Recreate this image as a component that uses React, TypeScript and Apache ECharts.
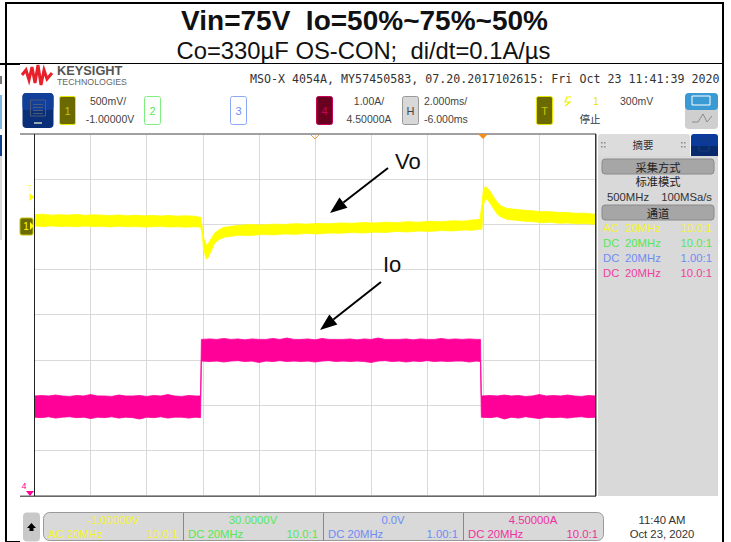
import React, { useEffect, useRef } from "react";
import * as echarts from "echarts";

const titleMain = "Vin=75V  Io=50%~75%~50%";
const titleSub = "Co=330µF OS-CON;  di/dt=0.1A/µs";
const scopeId = "MSO-X 4054A, MY57450583, 07.20.2017102615: Fri Oct 23 11:41:39 2020";

// Vo envelope (volts, AC) against time (ms across 10 divisions)
const voTime = [
  0, 0.3, 0.6, 0.9, 1.2, 1.5, 1.8, 2.1, 2.4, 2.7,
  3.0, 3.3, 3.6, 3.9, 4.2, 4.5, 4.8, 5.1, 5.4, 5.7,
  5.92, 5.97, 6.03, 6.13, 6.2, 6.31, 6.42, 6.6, 6.77, 7.02,
  7.3, 7.7, 8.1, 8.5, 8.9, 9.3, 9.7, 10.1, 10.5, 10.9,
  11.3, 11.7, 12.1, 12.5, 12.9, 13.3, 13.7, 14.1, 14.5, 14.9,
  15.3, 15.6, 15.88, 15.95, 16.0, 16.08, 16.19, 16.29, 16.4, 16.5,
  16.65, 16.83, 17.11, 17.47, 17.8, 18.1, 18.4, 18.7, 19.0, 19.3,
  19.6, 20,
];
const voUpper = [
  0.104, 0.108, 0.098, 0.103, 0.099, 0.106, 0.096, 0.102, 0.098, 0.094,
  0.1, 0.092, 0.097, 0.09, 0.095, 0.089, 0.094, 0.087, 0.091, 0.086,
  0.075, -0.014, -0.157, -0.234, -0.212, -0.157, -0.102, -0.058, -0.036, -0.025,
  -0.014, -0.006, -0.01, -0.002, -0.005, 0.004, -0.001, 0.006, 0.003, 0.012,
  0.007, 0.016, 0.011, 0.02, 0.015, 0.026, 0.02, 0.03, 0.025, 0.036,
  0.031, 0.044, 0.05, 0.218, 0.373, 0.417, 0.384, 0.34, 0.284, 0.24,
  0.196, 0.174, 0.163, 0.152, 0.144, 0.136, 0.137, 0.126, 0.128, 0.118,
  0.12, 0.108,
];
const voLower = [
  -0.022, -0.028, -0.021, -0.027, -0.024, -0.03, -0.023, -0.028, -0.026, -0.032,
  -0.025, -0.031, -0.028, -0.034, -0.03, -0.027, -0.033, -0.031, -0.035, -0.03,
  -0.035, -0.091, -0.29, -0.389, -0.367, -0.29, -0.212, -0.168, -0.146, -0.135,
  -0.124, -0.128, -0.116, -0.12, -0.11, -0.114, -0.104, -0.11, -0.1, -0.103,
  -0.094, -0.1, -0.09, -0.093, -0.082, -0.088, -0.078, -0.083, -0.072, -0.077,
  -0.066, -0.07, -0.058, -0.058, 0.207, 0.284, 0.251, 0.207, 0.152, 0.108,
  0.075, 0.053, 0.042, 0.031, 0.024, 0.014, 0.018, 0.008, 0.011, 0.002,
  0.005, -0.003,
];

// Io envelope (amps) against time (ms)
const ioTime = [
  0, 0.25, 0.5, 0.75, 1, 1.25, 1.5, 1.75, 2, 2.25,
  2.5, 2.75, 3, 3.25, 3.5, 3.75, 4, 4.25, 4.5, 4.75,
  5, 5.25, 5.5, 5.75, 5.92,
  5.95, 6.25, 6.5, 6.75, 7, 7.25, 7.5, 7.75, 8, 8.25,
  8.5, 8.75, 9, 9.25, 9.5, 9.75, 10, 10.25, 10.5, 10.75,
  11, 11.25, 11.5, 11.75, 12, 12.25, 12.5, 12.75, 13, 13.25,
  13.5, 13.75, 14, 14.25, 14.5, 14.75, 15, 15.25, 15.5, 15.75,
  15.9,
  15.93, 16.25, 16.5, 16.75, 17, 17.25, 17.5, 17.75, 18, 18.25,
  18.5, 18.75, 19, 19.25, 19.5, 19.75, 20,
];
const ioUpper = [
  2.7, 2.71, 2.7, 2.72, 2.7, 2.69, 2.71, 2.7, 2.73, 2.7,
  2.7, 2.69, 2.72, 2.7, 2.7, 2.71, 2.69, 2.71, 2.7, 2.73,
  2.7, 2.69, 2.71, 2.7, 2.7,
  3.95, 3.96, 3.95, 3.97, 3.95, 3.96, 3.94, 3.96, 3.95, 3.95,
  3.97, 3.95, 3.98, 3.95, 3.95, 3.96, 3.94, 3.97, 3.95, 3.95,
  3.95, 3.96, 3.94, 3.96, 3.95, 3.98, 3.95, 3.95, 3.95, 3.96,
  3.94, 3.96, 3.95, 3.95, 3.97, 3.95, 3.96, 3.95, 3.96, 3.95,
  3.95,
  2.7, 2.71, 2.7, 2.72, 2.7, 2.71, 2.69, 2.7, 2.73, 2.7,
  2.71, 2.7, 2.72, 2.7, 2.69, 2.71, 2.7,
];
const ioLower = [
  2.23, 2.22, 2.24, 2.21, 2.23, 2.24, 2.22, 2.23, 2.2, 2.23,
  2.22, 2.24, 2.21, 2.23, 2.22, 2.19, 2.23, 2.22, 2.24, 2.21,
  2.23, 2.23, 2.21, 2.23, 2.22,
  3.47, 3.46, 3.47, 3.45, 3.47, 3.48, 3.46, 3.47, 3.44, 3.47,
  3.46, 3.48, 3.46, 3.47, 3.46, 3.47, 3.45, 3.47, 3.48, 3.46,
  3.47, 3.46, 3.47, 3.46, 3.44, 3.47, 3.48, 3.46, 3.47, 3.45,
  3.47, 3.46, 3.48, 3.46, 3.47, 3.46, 3.47, 3.47, 3.45, 3.47,
  3.46,
  2.23, 2.22, 2.24, 2.19, 2.23, 2.21, 2.24, 2.22, 2.2, 2.23,
  2.22, 2.23, 2.21, 2.23, 2.24, 2.22, 2.23,
];

const panelRows = [
  { coupling: "AC", probe: "10.0:1", color: "#f4f42e" },
  { coupling: "DC", probe: "10.0:1", color: "#55e855" },
  { coupling: "DC", probe: "1.00:1", color: "#6f8cf5" },
  { coupling: "DC", probe: "10.0:1", color: "#f040a0" },
];
const bottomCells = [
  { offset: "-1.00000V", coupling: "AC 20MHz", probe: "10.0:1", color: "#f4f42e" },
  { offset: "30.0000V", coupling: "DC 20MHz", probe: "10.0:1", color: "#55e855" },
  { offset: "0.0V", coupling: "DC 20MHz", probe: "1.00:1", color: "#6f8cf5" },
  { offset: "4.50000A", coupling: "DC 20MHz", probe: "10.0:1", color: "#f030a0" },
];

const SANS = "'Liberation Sans', Arial, sans-serif";
const CJK = "'Noto Sans CJK SC', sans-serif";
const MONO = "'DejaVu Sans Mono', monospace";
const YELLOW = "#ffff00";
const PINK = "#ff0099";

const rect = (x: number, y: number, w: number, h: number, fill: string, extra: any = {}) => ({
  type: "rect",
  silent: true,
  shape: { x, y, width: w, height: h, r: extra.r || 0 },
  style: { fill, stroke: extra.stroke, lineWidth: extra.lineWidth },
  z: extra.z ?? 5,
});
const text = (
  x: number,
  y: number,
  s: string,
  size: number,
  fill: string,
  align = "left",
  family = SANS,
  weight = "normal"
) => ({
  type: "text",
  silent: true,
  x,
  y,
  z: 20,
  style: { text: s, fill, font: `${weight} ${size}px ${family}`, textAlign: align, textVerticalAlign: "middle" },
});
const arrow = (x1: number, y1: number, x2: number, y2: number) => {
  const a = Math.atan2(y2 - y1, x2 - x1);
  const L = 17;
  const W = 6.5;
  const bx = x2 - L * Math.cos(a);
  const by = y2 - L * Math.sin(a);
  return [
    { type: "line", silent: true, z: 20, shape: { x1, y1, x2: bx, y2: by }, style: { stroke: "#000", lineWidth: 2 } },
    {
      type: "polygon",
      silent: true,
      z: 20,
      shape: {
        points: [
          [x2, y2],
          [bx - W * Math.sin(a), by + W * Math.cos(a)],
          [bx + W * Math.sin(a), by - W * Math.cos(a)],
        ],
      },
      style: { fill: "#000" },
    },
  ];
};

function overlay() {
  const g: any[] = [];
  // frame of the pasted picture
  g.push(rect(5, 2, 718, 2, "#000"));
  g.push(rect(5, 2, 2, 540, "#000"));
  g.push(rect(722, 2, 2, 540, "#000"));
  g.push(rect(0, 63, 20, 2, "#000"));
  g.push(rect(20, 63, 702, 1, "#000"));
  g.push(rect(5, 541, 15, 1, "#000"));
  // cut-off neighbours on the far left
  g.push(rect(0, 76, 2, 8, "#777"));
  g.push(rect(0, 95, 2, 34, "#7fb6dc"));
  g.push(rect(0, 135, 2, 21, "#0d3f8c"));
  g.push(rect(0, 156, 2, 84, "#d9d9d9"));

  // titles
  g.push(text(364.5, 20, titleMain, 28, "#111", "center", SANS, "bold"));
  g.push(text(363.5, 50, titleSub, 23.8, "#111", "center"));

  // logo
  g.push({
    type: "polyline",
    silent: true,
    z: 20,
    shape: {
      points: [
        [22, 75], [26, 70], [29, 80], [32, 67], [35, 83], [38, 65], [41, 85], [44, 70], [47, 79], [52, 73],
      ],
    },
    style: { stroke: "#e8202a", fill: "none", lineWidth: 3 },
  });
  g.push(text(57, 70, "KEYSIGHT", 12.8, "#555", "left", SANS, "bold"));
  g.push(text(57, 82, "TECHNOLOGIES", 8.8, "#666"));
  g.push(text(250, 79, scopeId, 11.65, "#333", "left", MONO));

  // menu button
  g.push(rect(22.5, 93, 31, 35, "#0a2f78", { r: 4 }));
  g.push(rect(22.5, 93, 31, 17, "#123f9a", { r: 4 }));
  g.push(rect(30.5, 100, 15, 16, "none", { stroke: "#4a5a78", lineWidth: 1, z: 6 }));
  for (const y of [104, 107, 110, 113]) g.push(rect(33, y, 10, 1, "#4a5a78", { z: 6 }));
  g.push(rect(34, 122, 8, 2, "#9aa", { z: 6 }));

  // channel chips
  const chip = (x: number, label: string, fill: string, stroke: string, color: string) => {
    g.push(rect(x, 96.5, 16, 28, fill, { r: 2, stroke, lineWidth: 1 }));
    g.push(text(x + 8, 110.5, label, 11, color, "center"));
  };
  chip(59.5, "1", "#6a6a00", "#e6e600", "#c4c400");
  chip(144.5, "2", "#fff", "#7ff07f", "#55e855");
  chip(230.5, "3", "#fff", "#8aa8f5", "#6f8cf5");
  chip(316.5, "4", "#6a0020", "#c8005a", "#c8005a");
  chip(402.5, "H", "#d8d8d8", "#999", "#444");
  chip(536.5, "T", "#6a6a00", "#e6e600", "#c4c400");

  g.push(text(108, 101, "500mV/", 10.5, "#444", "center"));
  g.push(text(110, 119, "-1.00000V", 10.5, "#444", "center"));
  g.push(text(369, 101, "1.00A/", 10.5, "#444", "center"));
  g.push(text(369, 119, "4.50000A", 10.5, "#444", "center"));
  g.push(text(424, 101, "2.000ms/", 10.5, "#444"));
  g.push(text(424, 119, "-6.000ms", 10.5, "#444"));
  g.push({
    type: "polyline",
    silent: true,
    z: 20,
    shape: { points: [[571, 97], [567, 97], [565, 102], [570, 102], [565, 106]] },
    style: { stroke: "#f0f000", fill: "none", lineWidth: 1.2 },
  });
  g.push(text(596, 101, "1", 10.5, "#e8e800", "center"));
  g.push(text(620, 101, "300mV", 10.5, "#444"));
  g.push(text(590, 118, "停止", 10.5, "#333", "center", CJK));

  // zoom button
  g.push(rect(685, 93, 33, 36, "#cfcfcf", { r: 4 }));
  g.push(rect(685, 93, 33, 17, "#3a9ad4", { r: 4 }));
  g.push(rect(692, 96, 18, 9, "none", { stroke: "#fff", lineWidth: 1, z: 6 }));
  g.push({
    type: "polyline",
    silent: true,
    z: 6,
    shape: { points: [[692, 122], [698, 122], [703, 114], [707, 122], [712, 116]] },
    style: { stroke: "#8a8a8a", fill: "none", lineWidth: 1 },
  });

  // plot borders
  g.push(rect(20, 133, 576, 2, "#a0a0a0", { z: 6 }));
  g.push(rect(20, 495.5, 576, 1.5, "#666", { z: 6 }));
  g.push(rect(34, 134, 1, 362, "#222", { z: 6 }));
  g.push(rect(595, 134, 1.5, 362, "#333", { z: 6 }));

  // trigger and level markers
  g.push({
    type: "polyline",
    silent: true,
    z: 7,
    shape: { points: [[311, 135], [315, 139], [319, 135]] },
    style: { stroke: "#e8a040", fill: "none", lineWidth: 1 },
  });
  g.push({ type: "polygon", silent: true, z: 7, shape: { points: [[478, 134], [488, 134], [483, 139]] }, style: { fill: "#f09020" } });
  g.push(text(30, 188, "T", 9, "#ffff66", "center"));
  g.push({ type: "polygon", silent: true, z: 7, shape: { points: [[29.5, 193], [34, 197], [29.5, 201]] }, style: { fill: "#ffff00" } });
  g.push(rect(20, 218, 13, 17, "#6a6a00", { r: 2, stroke: "#c4c400", lineWidth: 1, z: 7 }));
  g.push(text(26, 226, "1", 10, "#ffff00", "center"));
  g.push({ type: "polygon", silent: true, z: 7, shape: { points: [[30, 222], [34, 226], [30, 230]] }, style: { fill: "#ffff00" } });
  g.push(text(24, 486, "4", 9, "#ff0099", "center"));
  g.push({ type: "polygon", silent: true, z: 7, shape: { points: [[26, 491], [34, 491], [30, 496]] }, style: { fill: "#ff0099" } });

  // right panel
  g.push(rect(598, 134, 92, 24, "#dcdcdc", { r: 3 }));
  g.push(rect(691, 134, 27, 22, "#0a3a9c", { r: 3 }));
  g.push(rect(691, 146, 27, 10, "#062a6c"));
  g.push(rect(699, 139, 10, 12, "none", { stroke: "#1a3a7a", lineWidth: 1, z: 6 }));
  g.push(rect(598, 156, 120, 340, "#d9d9d9"));
  g.push(text(643, 144, "摘要", 10.5, "#333", "center", CJK));
  for (const x of [603, 683]) {
    for (const y of [142, 146]) {
      g.push(rect(x - 2, y, 1.5, 1.5, "#888", { z: 6 }));
      g.push(rect(x + 1, y, 1.5, 1.5, "#888", { z: 6 }));
    }
  }
  g.push(rect(602, 159, 112, 15, "#a6a6a6", { r: 3, stroke: "#8a8a8a", lineWidth: 1, z: 6 }));
  g.push(text(658, 166.5, "采集方式", 11.3, "#222", "center", CJK));
  g.push(text(658, 181, "标准模式", 11.3, "#222", "center", CJK));
  g.push(text(607, 197, "500MHz", 11.3, "#333"));
  g.push(text(712, 197, "100MSa/s", 11.3, "#333", "right"));
  g.push(rect(602, 205, 112, 15, "#a6a6a6", { r: 3, stroke: "#8a8a8a", lineWidth: 1, z: 6 }));
  g.push(text(658, 212.5, "通道", 11.3, "#222", "center", CJK));
  panelRows.forEach((r, i) => {
    const y = 228 + i * 15;
    g.push(text(603, y, r.coupling, 11.3, r.color));
    g.push(text(625, y, "20MHz", 11.3, r.color));
    g.push(text(712, y, r.probe, 11.3, r.color, "right"));
  });

  // bottom bar
  g.push(rect(23, 512.5, 17, 29, "#c8c8c8", { r: 4 }));
  g.push({ type: "polygon", silent: true, z: 7, shape: { points: [[31.5, 523], [36, 528], [33.5, 528], [33.5, 531], [29.5, 531], [29.5, 528], [27, 528]] }, style: { fill: "#000" } });
  g.push(rect(43.5, 512.5, 560, 28, "#d9d9d9", { r: 6, stroke: "#999", lineWidth: 1 }));
  [183, 323, 463].forEach((x) => g.push(rect(x, 513, 1, 28, "#888", { z: 6 })));
  bottomCells.forEach((c, i) => {
    const x0 = 43 + i * 140;
    g.push(text(x0 + 70, 520, c.offset, 11.3, c.color, "center"));
    g.push(text(x0 + 5, 534, c.coupling, 11.3, c.color));
    g.push(text(x0 + 135, 534, c.probe, 11.3, c.color, "right"));
  });
  g.push(text(662, 520, "11:40 AM", 11.3, "#333", "center"));
  g.push(text(662, 534, "Oct 23, 2020", 11.3, "#333", "center"));

  // annotations
  g.push(text(395, 161, "Vo", 22, "#111"));
  g.push(text(383, 264, "Io", 22, "#111"));
  g.push(...arrow(388, 168, 330, 213));
  g.push(...arrow(381, 282, 320, 330));
  return g;
}

// A trace's noise band: one polygon along the upper edge and back along the lower edge.
function bandSeries(name: string, yAxisIndex: number, t: number[], lo: number[], hi: number[], color: string) {
  return {
    type: "custom",
    name,
    yAxisIndex,
    silent: true,
    clip: true,
    z: 3,
    encode: { x: 0, y: [1, 2] },
    data: t.map((x, i) => [x, lo[i], hi[i]]),
    renderItem: (params: any, api: any) => {
      if (params.dataIndex !== 0) return null;
      const upper = t.map((x, i) => api.coord([x, hi[i]]));
      const lower = t.map((x, i) => api.coord([x, lo[i]])).reverse();
      return {
        type: "polygon",
        shape: { points: upper.concat(lower) },
        style: { fill: color, stroke: color, lineWidth: 0.8 },
      };
    },
  };
}

export default function App() {
  const ref = useRef<HTMLDivElement>(null);
  useEffect(() => {
    const chart = echarts.init(ref.current!, undefined, { renderer: "svg" });
    chart.setOption({
      animation: false,
      backgroundColor: "#ffffff",
      grid: { left: 34.5, top: 133.5, width: 561, height: 362, containLabel: false },
      xAxis: {
        type: "value",
        min: 0,
        max: 20,
        interval: 2,
        axisLine: { show: false },
        axisTick: { show: false },
        axisLabel: { show: false },
        splitLine: { show: true, lineStyle: { color: "#d9d9d9", width: 1 } },
      },
      yAxis: [
        {
          type: "value",
          min: -3,
          max: 1,
          interval: 0.5,
          axisLine: { show: false },
          axisTick: { show: false },
          axisLabel: { show: false },
          splitLine: { show: true, lineStyle: { color: "#d9d9d9", width: 1 } },
        },
        {
          type: "value",
          min: 0.5,
          max: 8.5,
          show: false,
          splitLine: { show: false },
        },
      ],
      series: [
        bandSeries("Vo", 0, voTime, voLower, voUpper, YELLOW),
        bandSeries("Io", 1, ioTime, ioLower, ioUpper, PINK),
      ],
      graphic: { elements: overlay() },
    });
    return () => chart.dispose();
  }, []);
  return <div ref={ref} style={{ position: "absolute", left: 0, top: 0, width: 731, height: 542 }} />;
}
